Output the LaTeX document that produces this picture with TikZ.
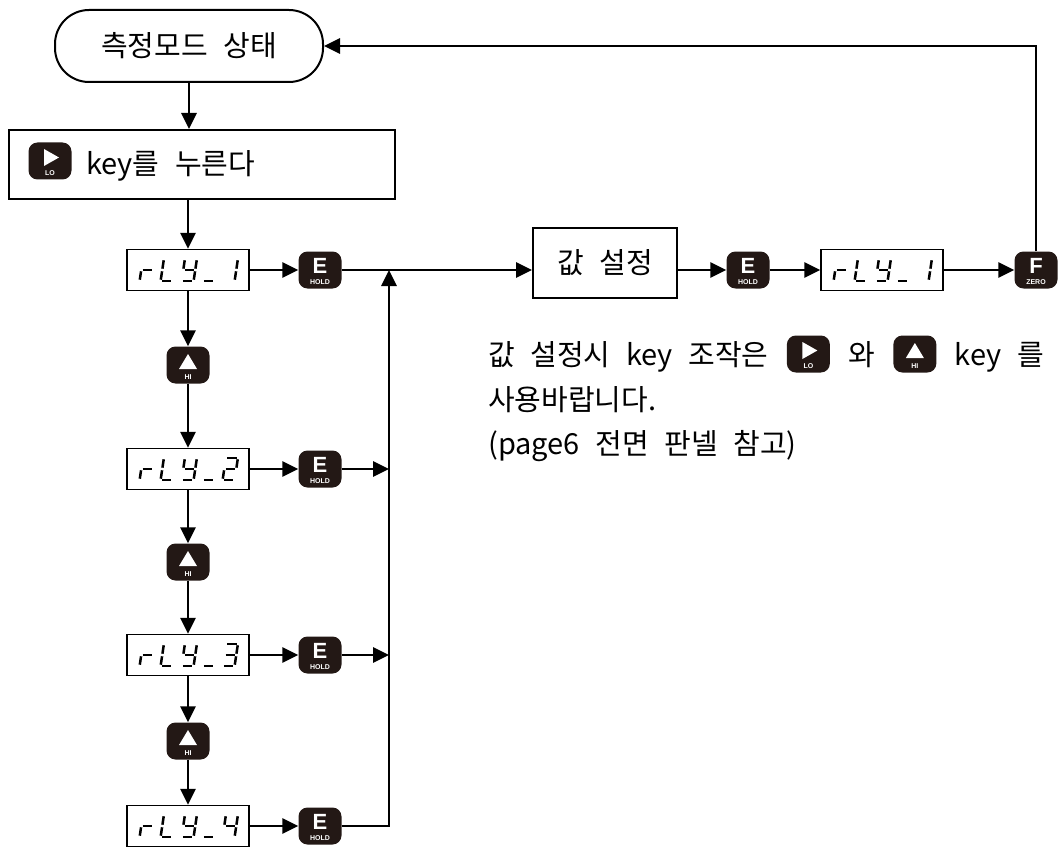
\documentclass[tikz,border=0pt]{standalone}
\usepackage{fontspec}
\newfontfamily\kr[WordSpace=2.4]{Noto Sans CJK KR}
\newfontfamily\sfb{Liberation Sans}
\usetikzlibrary{arrows.meta}
\definecolor{keyc}{HTML}{231815}
\tikzset{
  arr/.style={line width=2.8pt, -{Triangle[length=16pt,width=15pt]}},
  txt/.style={font=\kr\fontsize{29}{34}\selectfont, inner sep=0pt},
  term/.style={draw, line width=2pt, rounded corners=34pt, minimum width=268pt, minimum height=72pt, txt},
  pbox/.style={draw, line width=2pt, inner sep=0pt},
  disp/.style={draw, line width=1.5pt, fill=white, minimum width=122pt, minimum height=41pt, inner sep=0pt},
  keybox/.style={fill=keyc, rounded corners=9pt, minimum width=43pt, minimum height=37pt, inner sep=0pt},
  keysym/.style={font=\sfb\bfseries\fontsize{22}{22}\selectfont, text=white, inner sep=0pt},
  keylab/.style={font=\sfb\bfseries\fontsize{7}{7}\selectfont, text=white, inner sep=0pt},
  seg/.style={line width=2.5pt, line cap=butt}
}
\newcommand\segA{\draw[seg] (1.3,-11) -- (10.7,-11);}
\newcommand\segB{\draw[seg] (12,-9.7) -- (12,-1.3);}
\newcommand\segC{\draw[seg] (12,1.3) -- (12,9.7);}
\newcommand\segD{\draw[seg] (1.3,11) -- (10.7,11);}
\newcommand\segE{\draw[seg] (0,1.3) -- (0,9.7);}
\newcommand\segF{\draw[seg] (0,-9.7) -- (0,-1.3);}
\newcommand\segG{\draw[seg] (1.3,0) -- (10.7,0);}
\newcommand\sevchar[3]{\begin{scope}[shift={(#1.west)}, xshift=#2pt, xslant=0.15] #3 \end{scope}}
\newcommand\rly[2]{%
  \sevchar{#1}{15}{\segE\segG}%
  \sevchar{#1}{36}{\segD\segE\segF}%
  \sevchar{#1}{57}{\segB\segC\segD\segF\segG}%
  \sevchar{#1}{78}{\segD}%
  \sevchar{#1}{98}{#2}}
\newcommand\keyicon[4]{%
  \node[keybox] (#1) #2 {};
  \begin{scope}[shift={(#1.center)}] #3 \node[keylab] at (0,12.5) {#4}; \end{scope}}
\newcommand\symE{\node[keysym] at (0,-4.5) {E};}
\newcommand\symF{\node[keysym] at (0,-4.5) {F};}
\newcommand\symHI{\fill[white] (-9,4) -- (9,4) -- (0,-11) -- cycle;}
\newcommand\symLO{\fill[white] (-6,-12) -- (9,-3.5) -- (-6,5) -- cycle;}
\begin{document}
\begin{tikzpicture}[x=1pt,y=-1pt]
\useasboundingbox (0,0) rectangle (1058,848);
% start
\node[term] (term) at (189,46) {측정모드 상태};
\node[pbox, minimum width=386pt, minimum height=69pt] (b1) at (202,164.5) {};
\keyicon{lo1}{at (50,161)}{\symLO}{LO}
\node[txt, anchor=west] (b1t) at (86,166) {key를 누른다};
% left column
\node[disp] (d1) at (188,270) {}; \rly{d1}{\segB\segC}
\node[disp] (d2) at (188,469) {}; \rly{d2}{\segA\segB\segG\segE\segD}
\node[disp] (d3) at (188,655) {}; \rly{d3}{\segA\segB\segG\segC\segD}
\node[disp] (d4) at (188,826) {}; \rly{d4}{\segF\segG\segB\segC}
\keyicon{h1}{at (188,365)}{\symHI}{HI}
\keyicon{h2}{at (188,562)}{\symHI}{HI}
\keyicon{h3}{at (188,741)}{\symHI}{HI}
\keyicon{e1}{at (320,270)}{\symE}{HOLD}
\keyicon{e2}{at (320,469)}{\symE}{HOLD}
\keyicon{e3}{at (320,655)}{\symE}{HOLD}
\keyicon{e4}{at (320,826)}{\symE}{HOLD}
% right row
\node[pbox, txt, minimum width=144pt, minimum height=70pt] (val) at (605,263) {값 설정};
\keyicon{e5}{at (748,270)}{\symE}{HOLD}
\node[disp] (d5) at (882,270) {}; \rly{d5}{\segB\segC}
\keyicon{f}{at (1036,270)}{\symF}{ZERO}
\coordinate (jt) at (389,270);
% connectors
\draw[arr] (term.south) -- (term.south |- b1.north);
\draw[arr] (b1.south -| d1.north) -- (d1.north);
\draw[arr] (d1) -- (h1);
\draw[arr] (h1) -- (d2);
\draw[arr] (d2) -- (h2);
\draw[arr] (h2) -- (d3);
\draw[arr] (d3) -- (h3);
\draw[arr] (h3) -- (d4);
\draw[arr] (d1) -- (e1);
\draw[arr] (d2) -- (e2);
\draw[arr] (d3) -- (e3);
\draw[arr] (d4) -- (e4);
\draw[arr] (e1.east) -- (val.west |- e1.east);
\draw[arr] (e2.east) -- (e2.east -| jt);
\draw[arr] (e3.east) -- (e3.east -| jt);
\draw[arr] (e4.east) -| (jt);
\draw[arr] (val.east |- e5.west) -- (e5.west);
\draw[arr] (e5) -- (d5);
\draw[arr] (d5) -- (f);
\draw[arr] (f.north) |- (term.east);
% note text
\coordinate (ly1) at (0,354);
\node[txt, anchor=base west] (t1) at (488,365) {값 설정시 key 조작은};
\path (t1.east) ++(18,0) coordinate (c1);
\keyicon{lo2}{[anchor=west] at (c1 |- ly1)}{\symLO}{LO}
\path (lo2.east) ++(18,0) coordinate (c2);
\node[txt, anchor=base west] (t2) at (c2 |- t1.base) {와};
\path (t2.east) ++(18,0) coordinate (c3);
\keyicon{hi2}{[anchor=west] at (c3 |- ly1)}{\symHI}{HI}
\path (hi2.east) ++(18,0) coordinate (c4);
\node[txt, anchor=base west] (t3) at (c4 |- t1.base) {key 를};
\node[txt, anchor=base west] (t4) at (488,410) {사용바랍니다.};
\node[txt, anchor=base west] (t5) at (488,454) {(page6 전면 판넬 참고)};
\end{tikzpicture}
\end{document}
